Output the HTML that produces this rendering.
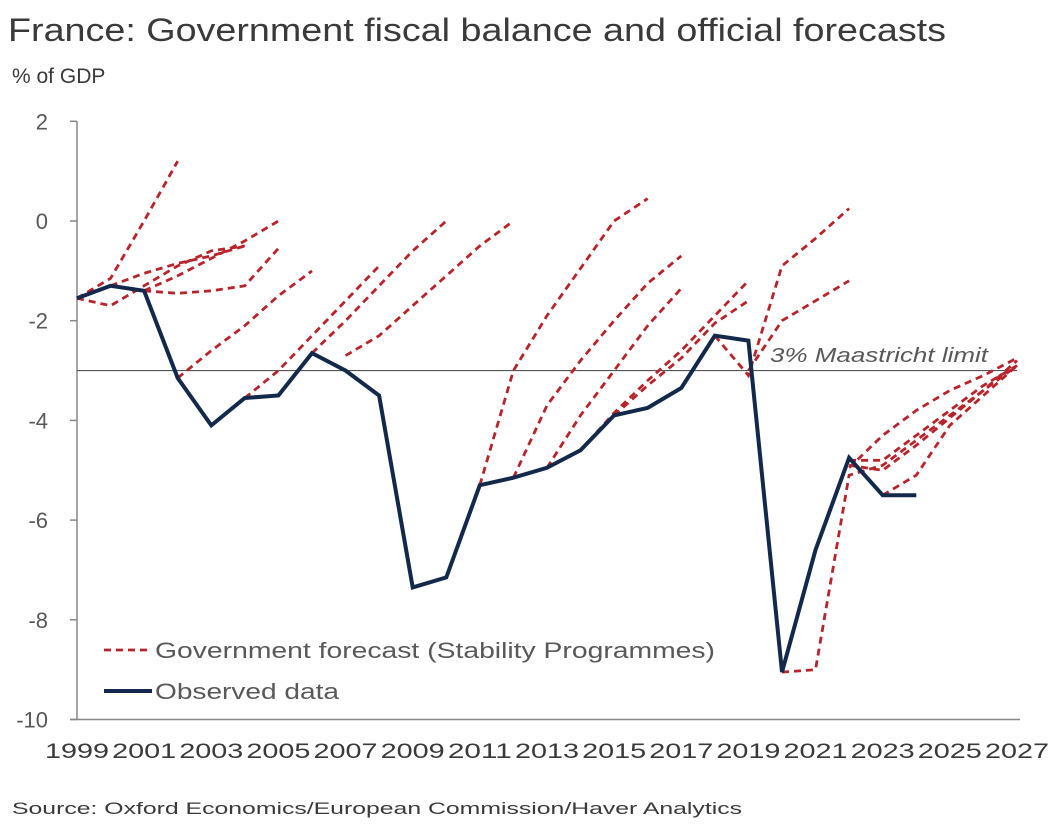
<!DOCTYPE html>
<html><head><meta charset="utf-8"><style>
body{margin:0;background:#fff;}
svg{display:block;font-family:"Liberation Sans",sans-serif;}
</style></head><body>
<svg width="1060" height="833" viewBox="0 0 1060 833">
<text x="8" y="41" font-size="32" fill="#3a3a3a" textLength="938" lengthAdjust="spacingAndGlyphs">France: Government fiscal balance and official forecasts</text>
<text x="12" y="83" font-size="21" fill="#3a3a3a">% of GDP</text>
<g id="axes"></g>
<g id="forecasts"></g>
<g id="observed"></g>
<text x="770" y="362" font-size="20" font-style="italic" fill="#595959" textLength="218" lengthAdjust="spacingAndGlyphs">3% Maastricht limit</text>
<g>
<line x1="104" y1="650" x2="150" y2="650" stroke="#b8242b" stroke-width="2.8" stroke-dasharray="7,5"/>
<text x="155" y="658" font-size="22" fill="#595959" textLength="560" lengthAdjust="spacingAndGlyphs">Government forecast (Stability Programmes)</text>
<line x1="104" y1="691" x2="152" y2="691" stroke="#13294b" stroke-width="4"/>
<text x="155" y="699" font-size="22" fill="#595959" textLength="184" lengthAdjust="spacingAndGlyphs">Observed data</text>
</g>
<text x="12" y="814" font-size="17" fill="#3a3a3a" textLength="730" lengthAdjust="spacingAndGlyphs">Source: Oxford Economics/European Commission/Haver Analytics</text>
</svg>
<script>
const yTicks=[2,0,-2,-4,-6,-8,-10];
const xTickYears=[1999,2001,2003,2005,2007,2009,2011,2013,2015,2017,2019,2021,2023,2025,2027];
const observedStart=1999;
const observedValues=[-1.55,-1.3,-1.4,-3.15,-4.1,-3.55,-3.5,-2.65,-3.0,-3.5,-7.35,-7.15,-5.3,-5.15,-4.95,-4.6,-3.9,-3.75,-3.35,-2.3,-2.4,-9.05,-6.6,-4.75,-5.5,-5.5];
const forecastStarts=[1999,1999,2000,2001,2001,2002,2004,2006,2007,2011,2012,2013,2014,2015,2018,2019,2020,2022,2022,2022,2023];
const forecastValues=[
[-1.55,-1.15,0.0,1.2],
[-1.55,-1.7,-1.3,-0.9,-0.6,-0.5],
[-1.3,-1.05,-0.85,-0.7,-0.5],
[-1.4,-1.1,-0.75,-0.4,0.0],
[-1.4,-1.45,-1.4,-1.3,-0.55],
[-3.15,-2.6,-2.1,-1.5,-1.0],
[-3.55,-3.0,-2.3,-1.6,-0.9],
[-2.65,-2.0,-1.3,-0.6,0.0],
[-2.7,-2.3,-1.7,-1.1,-0.5,0.0],
[-5.3,-3.0,-1.9,-0.95,0.0,0.45],
[-5.15,-3.7,-2.8,-2.0,-1.25,-0.7],
[-4.95,-3.9,-3.0,-2.1,-1.35],
[-4.6,-3.85,-3.2,-2.6,-1.9,-1.2],
[-3.9,-3.3,-2.75,-2.05,-1.6],
[-2.3,-3.1,-0.9,-0.35,0.25],
[-3.0,-2.0,-1.6,-1.2],
[-9.05,-9.0,-5.1,-4.9,-4.4,-3.9,-3.4,-2.9],
[-4.95,-4.3,-3.8,-3.4,-3.1,-2.75],
[-4.9,-5.0,-4.5,-3.95,-3.4,-2.8],
[-4.8,-4.8,-4.3,-3.8,-3.3,-2.9],
[-5.5,-5.1,-4.1,-3.5,-2.9]
];
const maastricht=-3;
const NS='http://www.w3.org/2000/svg';
function xs(yr){return 77+(yr-1999)*33.57;}
function ys(v){return 221-v*49.85;}
function mk(tag,attrs,parent){const e=document.createElementNS(NS,tag);for(const k in attrs)e.setAttribute(k,attrs[k]);parent.appendChild(e);return e;}
const axes=document.getElementById('axes');
let e=mk('line',{x1:77,y1:ys(2),x2:77,y2:ys(-10),stroke:'#888','stroke-width':1.5},axes);


e=mk('line',{x1:70,y1:ys(-10),x2:1020,y2:ys(-10),stroke:'#888','stroke-width':1.5},axes);


yTicks.forEach(v=>{
 const t=mk('line',{x1:70,y1:ys(v),x2:77,y2:ys(v),stroke:'#888','stroke-width':1.5},axes);
 
 
 const l=mk('text',{x:48,y:ys(v)+8,'font-size':22,fill:'#595959','text-anchor':'end'},axes);
 l.textContent=String(v);
 
 
});
xTickYears.forEach(yr=>{
 const l=mk('text',{x:xs(yr),y:758,'font-size':21,fill:'#3a3a3a','text-anchor':'middle',textLength:64,lengthAdjust:'spacingAndGlyphs'},axes);
 l.textContent=String(yr);
 
 
});
e=mk('line',{x1:77,y1:ys(maastricht),x2:1017,y2:ys(maastricht),stroke:'#555','stroke-width':1.2},axes);


const fg=document.getElementById('forecasts');
forecastValues.forEach((vals,i)=>{
 const pts=vals.map((v,j)=>xs(forecastStarts[i]+j).toFixed(1)+','+ys(v).toFixed(1)).join(' ');
 const p=mk('polyline',{points:pts,fill:'none',stroke:'#b8242b','stroke-width':2.8,'stroke-dasharray':'7,5'},fg);
 
 
});
const og=document.getElementById('observed');
const opts=observedValues.map((v,j)=>xs(observedStart+j).toFixed(1)+','+ys(v).toFixed(1)).join(' ');
e=mk('polyline',{points:opts,fill:'none',stroke:'#13294b','stroke-width':4,'stroke-linejoin':'miter'},og);


</script>
</body></html>
